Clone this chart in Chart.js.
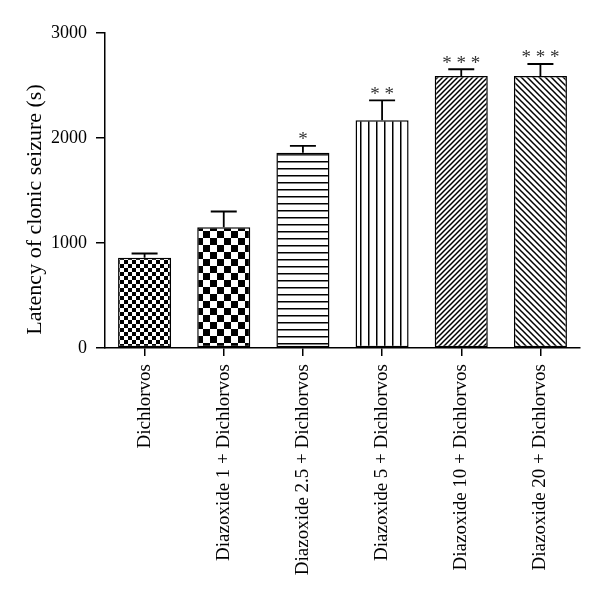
<!DOCTYPE html>
<html>
<head>
  <title>Latency of clonic seizure</title>
  <script src="https://cdn.jsdelivr.net/npm/chart.js"></script>
  <style>
    body { margin: 0; background: #fff; }
  </style>
</head>
<body>
  <canvas id="myChart" width="600" height="600"></canvas>
  <script>
    const groups = ['Dichlorvos', 'Diazoxide 1 + Dichlorvos', 'Diazoxide 2.5 + Dichlorvos',
      'Diazoxide 5 + Dichlorvos', 'Diazoxide 10 + Dichlorvos', 'Diazoxide 20 + Dichlorvos'];
    const latency = [860, 1150, 1860, 2170, 2590, 2590];
    const sem = [40, 150, 65, 188, 65, 115];
    const stars = ['', '', '*', '* *', '* * *', '* * *'];
    const yTicks = [0, 1000, 2000, 3000];
    const yTitle = 'Latency of clonic seizure (s)';

    const serif = '"Liberation Serif", "DejaVu Serif", serif';

    // small tiles used as fill patterns
    function tile(w, h, draw) {
      const c = document.createElement('canvas');
      c.width = w; c.height = h;
      const g = c.getContext('2d');
      g.fillStyle = '#fff';
      g.fillRect(0, 0, w, h);
      g.fillStyle = '#000';
      g.strokeStyle = '#000';
      draw(g, w, h);
      return document.createElement('canvas').getContext('2d').createPattern(c, 'repeat');
    }
    function checker(s) {
      return tile(2 * s, 2 * s, (g) => { g.fillRect(0, 0, s, s); g.fillRect(s, s, s, s); });
    }
    const patterns = [
      checker(4),
      checker(7),
      tile(8, 7, (g, w) => { g.fillRect(0, 0, w, 1.5); }),
      tile(8, 8, (g, w, h) => { g.fillRect(0, 0, 1.5, h); }),
      tile(5, 5, (g, w, h) => {
        g.lineWidth = 1.5;
        g.beginPath();
        g.moveTo(-1, h + 1); g.lineTo(w + 1, -1);
        g.moveTo(-1, 1); g.lineTo(1, -1);
        g.moveTo(w - 1, h + 1); g.lineTo(w + 1, h - 1);
        g.stroke();
      }),
      tile(6, 6, (g, w, h) => {
        g.lineWidth = 1.5;
        g.beginPath();
        g.moveTo(-1, -1); g.lineTo(w + 1, h + 1);
        g.moveTo(w - 1, -1); g.lineTo(w + 1, 1);
        g.moveTo(-1, h - 1); g.lineTo(1, h + 1);
        g.stroke();
      })
    ];

    const errorBars = {
      id: 'errorBars',
      afterDatasetsDraw(chart) {
        const ctx = chart.ctx;
        const meta = chart.getDatasetMeta(0);
        const y = chart.scales.y;
        ctx.save();
        ctx.strokeStyle = '#000';
        ctx.lineWidth = 1.8;
        meta.data.forEach((bar, i) => {
          const top = y.getPixelForValue(latency[i] + sem[i]);
          ctx.beginPath();
          ctx.moveTo(bar.x, bar.y);
          ctx.lineTo(bar.x, top);
          ctx.moveTo(bar.x - 13, top);
          ctx.lineTo(bar.x + 13, top);
          ctx.stroke();
          if (stars[i]) {
            ctx.fillStyle = '#333';
            ctx.font = '19px ' + serif;
            ctx.textAlign = 'center';
            ctx.textBaseline = 'bottom';
            ctx.fillText(stars[i], bar.x, top + 4);
          }
        });
        ctx.restore();
      }
    };

    // axis title sits a bit below the middle of the axis in the original
    const axisTitle = {
      id: 'axisTitle',
      afterDraw(chart) {
        const ctx = chart.ctx;
        const area = chart.chartArea;
        ctx.save();
        ctx.translate(35, (area.top + area.bottom) / 2 + 19);
        ctx.rotate(-Math.PI / 2);
        ctx.fillStyle = '#000';
        ctx.font = '22px ' + serif;
        ctx.textAlign = 'center';
        ctx.textBaseline = 'middle';
        ctx.fillText(yTitle, 0, 0);
        ctx.restore();
      }
    };

    const ctx = document.getElementById('myChart').getContext('2d');
    new Chart(ctx, {
      type: 'bar',
      data: {
        labels: groups,
        datasets: [{
          data: latency,
          backgroundColor: patterns,
          borderColor: '#000',
          borderWidth: 1.5,
          borderSkipped: false,
          barPercentage: 0.67,
          categoryPercentage: 1
        }]
      },
      options: {
        responsive: false,
        animation: false,
        layout: { padding: { top: 33, right: 20, left: 0, bottom: 0 } },
        plugins: { legend: { display: false }, tooltip: { enabled: false } },
        scales: {
          x: {
            grid: { display: true, drawOnChartArea: false, offset: false, color: '#000', lineWidth: 1.5, tickLength: 8 },
            border: { display: true, color: '#000', width: 1.5 },
            ticks: {
              color: '#000', font: { family: serif, size: 19 },
              minRotation: 90, maxRotation: 90, autoSkip: false, padding: 8
            },
            afterFit(scale) { scale.height = 252; }
          },
          y: {
            min: 0, max: 3000,
            grid: { display: true, drawOnChartArea: false, color: '#000', lineWidth: 1.5, tickLength: 9 },
            border: { display: true, color: '#000', width: 1.5 },
            afterBuildTicks(scale) { scale.ticks = yTicks.map(v => ({ value: v })); },
            ticks: {
              color: '#000', font: { family: serif, size: 18 }, padding: 9,
              callback: (v) => String(v)
            },
            afterFit(scale) { scale.width = 105; }
          }
        }
      },
      plugins: [errorBars, axisTitle]
    });
  </script>
</body>
</html>
